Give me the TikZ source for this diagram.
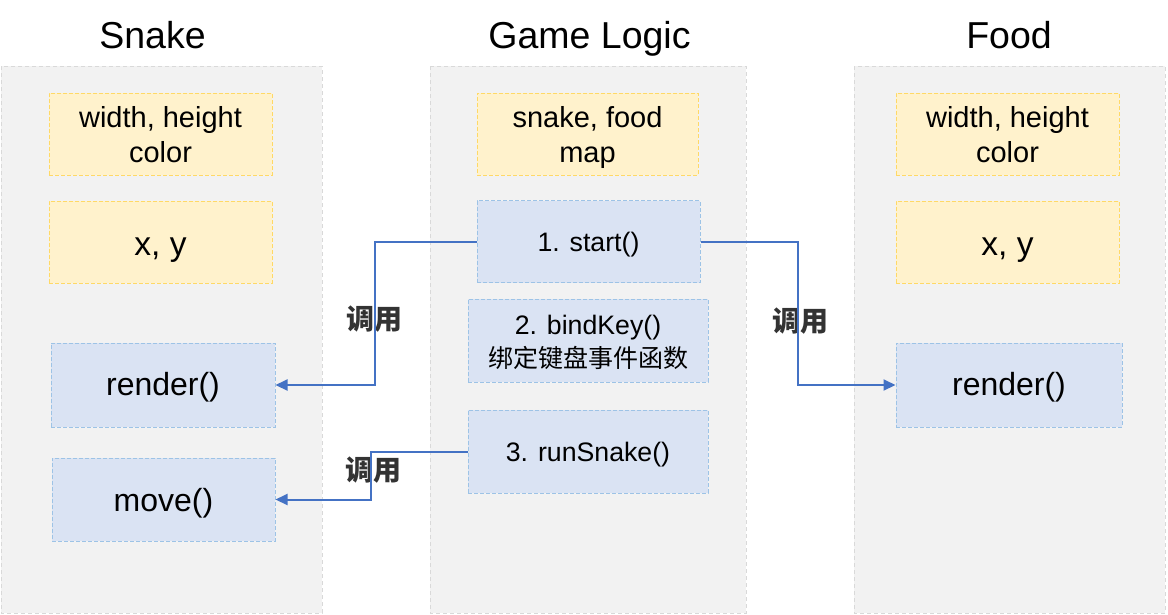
\documentclass[tikz,border=0pt]{standalone}
\usepackage{fontspec}
\setmainfont{Liberation Sans}
\newfontfamily\cjk{Noto Sans CJK SC}
\usetikzlibrary{arrows.meta}
\definecolor{panelfill}{HTML}{F2F2F2}
\definecolor{paneldraw}{HTML}{D9D9D9}
\definecolor{yfill}{HTML}{FFF2CC}
\definecolor{ydraw}{HTML}{FFD966}
\definecolor{bfill}{HTML}{DAE3F3}
\definecolor{bdraw}{HTML}{9DC3E6}
\definecolor{arrowblue}{HTML}{4472C4}
\definecolor{labelgray}{HTML}{333333}
\newcommand\ystrut{\rule[-7pt]{0pt}{35pt}}
\newcommand\bstrut{\rule[-4.5pt]{0pt}{30pt}}
\tikzset{
  panel/.style={fill=panelfill, draw=paneldraw, line width=1pt, dash pattern=on 4pt off 3pt},
  ybox/.style={rectangle, fill=yfill, draw=ydraw, line width=1pt, dash pattern=on 4pt off 2pt, inner sep=0pt, align=center, text=black},
  bbox/.style={rectangle, fill=bfill, draw=bdraw, line width=1pt, dash pattern=on 4pt off 2pt, inner sep=0pt, align=center, text=black},
  title/.style={font=\fontsize{37.5}{42}\selectfont, text=black, inner sep=0pt, anchor=base},
  arr/.style={draw=arrowblue, line width=2pt, -{Triangle[length=12pt,width=11pt]}},
  calllabel/.style={font=\cjk\bfseries\fontsize{28}{30}\selectfont, text=labelgray, inner sep=0pt},
  txtA/.style={font=\fontsize{29}{35}\selectfont},
  txtB/.style={font=\fontsize{32}{36}\selectfont, text depth=0pt},
  txtC/.style={font=\fontsize{33.5}{38}\selectfont, text height=26pt, text depth=0pt},
  txtG/.style={font=\fontsize{26.7}{30}\selectfont, text depth=0pt},
}
\begin{document}
\begin{tikzpicture}[x=1pt,y=-1pt]
\useasboundingbox (0,0) rectangle (1168,614);
\fill[white] (0,0) rectangle (1168,614);
% panels
\path[panel] (1,66) rectangle (322,613);
\path[panel] (430,66) rectangle (746,613);
\path[panel] (854,66) rectangle (1165,613);
% titles
\node[title] (tsnake) at (152.5,48) {Snake};
\node[title] (tgame) at (589.5,48) {Game Logic};
\node[title] (tfood) at (1009,48) {Food};
% Snake
\node[ybox, minimum width=223pt, minimum height=82pt, txtA] (sa) at (160.5,134) {\ystrut width, height\\\ystrut color};
\node[ybox, minimum width=223pt, minimum height=82pt, txtC] (sb) at (160.5,242) {x, y};
\node[bbox, minimum width=224pt, minimum height=84pt, txtB, text height=20pt] (sr) at (163,385) {render()};
\node[bbox, minimum width=223pt, minimum height=83pt, txtB, text height=23pt] (sm) at (163.5,499.5) {move()};
% Game Logic
\node[ybox, minimum width=221pt, minimum height=82pt, txtA] (ga) at (587.5,134) {\ystrut snake, food\\\ystrut map};
\node[bbox, minimum width=223pt, minimum height=82pt, txtG, text height=20pt] (gs) at (588.5,241.5) {1. start()};
\node[bbox, minimum width=240pt, minimum height=83pt, font=\fontsize{26.7}{30}\selectfont] (gb) at (588,340.5) {\bstrut 2. bindKey()\\{\cjk\fontsize{25}{30}\selectfont\bstrut 绑定键盘事件函数}};
\node[bbox, minimum width=240pt, minimum height=83pt, txtG, text height=20pt] (gr) at (588,451.5) {3. runSnake()};
% Food
\node[ybox, minimum width=223pt, minimum height=82pt, txtA] (fa) at (1007.5,134) {\ystrut width, height\\\ystrut color};
\node[ybox, minimum width=223pt, minimum height=82pt, txtC] (fb) at (1007.5,242) {x, y};
\node[bbox, minimum width=226pt, minimum height=84pt, txtB, text height=20pt] (fr) at (1009,385) {render()};
% labels
\node[calllabel] (l1) at (374,319) {调用};
\node[calllabel] (l2) at (373,470) {调用};
\node[calllabel] (l3) at (800,321) {调用};
% connectors
\draw[arr] (gs.west) -- ++(-102,0) |- (sr.east);
\draw[arr] (gs.east) -- ++(97,0) |- (fr.west);
\draw[arr] (gr.west) -- ++(-97,0) |- (sm.east);
\end{tikzpicture}
\end{document}
